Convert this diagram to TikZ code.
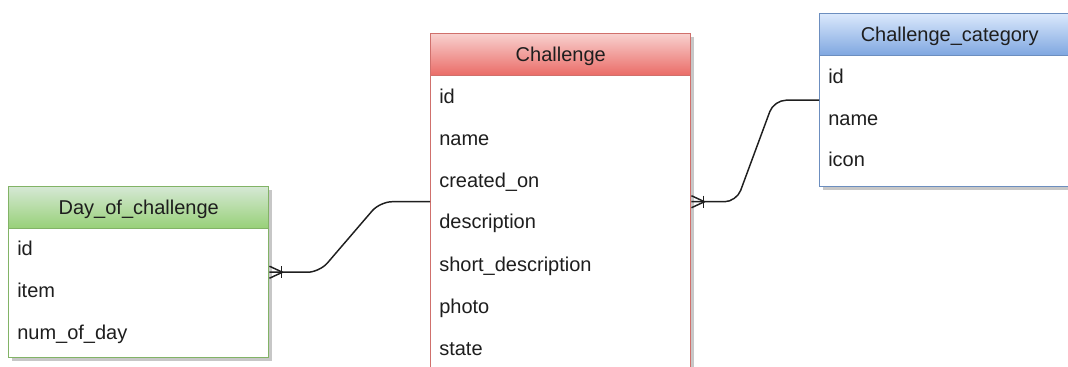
\documentclass[tikz,border=0pt]{standalone}
\usepackage{fontspec}
\setmainfont{Liberation Sans}
\usetikzlibrary{shadows,calc}

\definecolor{redtop}{HTML}{F8D0CE}
\definecolor{redbot}{HTML}{EA6B66}
\definecolor{redline}{HTML}{D0706C}
\definecolor{bluetop}{HTML}{DAE8FC}
\definecolor{bluebot}{HTML}{7EA6E0}
\definecolor{blueline}{HTML}{6C8EBF}
\definecolor{greentop}{HTML}{D5E8D4}
\definecolor{greenbot}{HTML}{97D077}
\definecolor{greenline}{HTML}{82B366}
\definecolor{ink}{HTML}{1E1E1E}

\begin{document}
\begin{tikzpicture}[x=0.75pt,y=-0.75pt,
  font=\fontsize{15pt}{18pt}\selectfont,
  entity/.style={rectangle, draw=#1, line width=1.1pt, fill=white,
    anchor=north west, inner sep=0pt, minimum width=195pt,
    drop shadow={shadow xshift=2.4pt, shadow yshift=-2.4pt, fill=black!22, opacity=1}},
  header/.style n args={3}{rectangle, draw=#3, line width=1.1pt,
    top color=#1, bottom color=#2, anchor=north west, inner sep=0pt,
    minimum width=195pt, minimum height=31.5pt, text=ink,
    text depth=0pt, text height=10.6pt},
  attr/.style={anchor=mid west, inner sep=0pt, text=ink},
  conn/.style={draw=black!88, line width=1.1pt, line join=round},
]
\useasboundingbox (0,0) rectangle (1068,367);

% Challenge table
\node[entity=redline, minimum height=252pt] (ch) at (430,33) {};
\node[header={redtop}{redbot}{redline}] (chh) at (430,33) {Challenge};
\node[attr] (ch-id)   at (439,100) {id};
\node[attr] (ch-name) at (439,142) {name};
\node[attr] (ch-crt)  at (439,184) {created\_on};
\node[attr] (ch-desc) at (439,225) {description};
\node[attr] (ch-sdsc) at (439,268) {short\_description};
\node[attr] (ch-pho)  at (439,310) {photo};
\node[attr] (ch-st)   at (439,352) {state};

% Challenge_category table
\node[entity=blueline, minimum height=129.75pt] (cc) at (819,13) {};
\node[header={bluetop}{bluebot}{blueline}] (cch) at (819,13) {Challenge\_category};
\node[attr] (cc-id)   at (828,80)  {id};
\node[attr] (cc-name) at (828,122) {name};
\node[attr] (cc-icon) at (828,163) {icon};

% Day_of_challenge table
\node[entity=greenline, minimum height=128.25pt] (dc) at (8,186) {};
\node[header={greentop}{greenbot}{greenline}] (dch) at (8,186) {Day\_of\_challenge};
\node[attr] (dc-id)   at (17,252) {id};
\node[attr] (dc-item) at (17,294) {item};
\node[attr] (dc-num)  at (17,336) {num\_of\_day};

% Day_of_challenge (many) -- Challenge
\draw[conn, rounded corners=9pt] (dc.east) -- ++(50,0)
  -- ($(ch.west)+(-50,0)$) -- (ch.west);
\draw[conn] ([shift={(0,-6)}]dc.east) -- ([shift={(13,0)}]dc.east)
  -- ([shift={(0,6)}]dc.east);
\draw[conn] ([shift={(12,-6)}]dc.east) -- ([shift={(12,6)}]dc.east);

% Challenge (many) -- Challenge_category
\draw[conn, rounded corners=9pt] (ch.east) -- ++(45,0)
  -- ($(cc.west)+(-45,0)$) -- (cc.west);
\draw[conn] ([shift={(0,-6)}]ch.east) -- ([shift={(13,0)}]ch.east)
  -- ([shift={(0,6)}]ch.east);
\draw[conn] ([shift={(12,-6)}]ch.east) -- ([shift={(12,6)}]ch.east);
\end{tikzpicture}
\end{document}
